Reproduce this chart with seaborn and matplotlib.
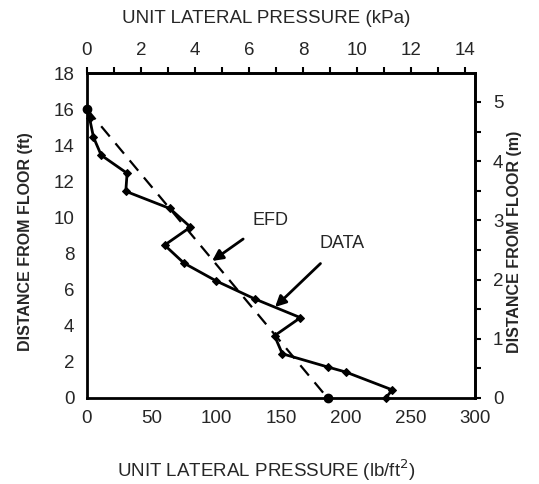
import matplotlib
matplotlib.use("Agg")
import matplotlib.pyplot as plt
import seaborn as sns
import pandas as pd
from matplotlib.ticker import MultipleLocator

sns.set_style("white")
plt.rcParams['font.family'] = ['Liberation Sans', 'DejaVu Sans']

# measured data (pressure lb/ft2, height ft)
data_pressure = [0, 2, 5, 11, 31, 30, 64, 80, 60, 75, 100, 130, 165, 145, 151, 186, 200, 236, 231]
data_height = [16.0, 15.5, 14.45, 13.45, 12.45, 11.45, 10.5, 9.47, 8.47, 7.47, 6.48, 5.48, 4.45, 3.45, 2.45, 1.72, 1.44, 0.45, 0.0]

# EFD prediction line
efd_pressure = [0, 186]
efd_height = [16.0, 0.0]

LB_PER_KPA = 20.885
FT_PER_M = 3.2808

df_data = pd.DataFrame({"p": data_pressure, "h": data_height})
df_efd = pd.DataFrame({"p": efd_pressure, "h": efd_height})

fig = plt.figure(figsize=(5.39, 4.84), dpi=100)
ax = fig.add_axes([0.1614, 0.1777, 0.8813 - 0.1614, 0.849 - 0.1777])

sns.lineplot(data=df_efd, x="p", y="h", ax=ax, sort=False, color="black",
             linewidth=1.6, dashes=False, linestyle=(0, (6, 4)))
ax.plot(efd_pressure, efd_height, "o", color="black", markersize=6, clip_on=False, zorder=5)
sns.lineplot(data=df_data, x="p", y="h", ax=ax, sort=False, color="black",
             linewidth=2, marker="D", markersize=4, markeredgecolor="black", clip_on=False)

ax.set_xlim(0, 300)
ax.set_ylim(0, 18)
ax.xaxis.set_major_locator(MultipleLocator(50))
ax.xaxis.set_minor_locator(MultipleLocator(25))
ax.yaxis.set_major_locator(MultipleLocator(2))
ax.yaxis.set_minor_locator(MultipleLocator(1))

for s in ax.spines.values():
    s.set_linewidth(2)
    s.set_color("black")

tick_kw = dict(direction="out", color="black", width=1.5)
ax.tick_params(which="major", length=4, labelsize=13.5, pad=5, **tick_kw)
ax.tick_params(which="minor", length=4, **tick_kw)

ax.set_xlabel("UNIT LATERAL PRESSURE (lb/ft$^2$)", fontsize=13.5)
ax.xaxis.set_label_coords(0.461, -0.184, transform=ax.transAxes)
ax.set_ylabel("DISTANCE FROM FLOOR (ft)", fontsize=11.5, fontweight="bold")
ax.yaxis.set_label_coords(-0.138, 0.48, transform=ax.transAxes)

top = ax.secondary_xaxis("top", functions=(lambda x: x / LB_PER_KPA, lambda k: k * LB_PER_KPA))
top.xaxis.set_major_locator(MultipleLocator(2))
top.xaxis.set_minor_locator(MultipleLocator(1))
top.tick_params(which="major", length=4, labelsize=13.5, pad=6, **tick_kw)
top.tick_params(which="minor", length=4, **tick_kw)
top.set_xlabel("UNIT LATERAL PRESSURE (kPa)", fontsize=13.5)
top.xaxis.set_label_coords(0.461, 1.155, transform=ax.transAxes)
top.spines["top"].set_linewidth(2)

right = ax.secondary_yaxis("right", functions=(lambda y: y / FT_PER_M, lambda m: m * FT_PER_M))
right.yaxis.set_major_locator(MultipleLocator(1))
right.yaxis.set_minor_locator(MultipleLocator(0.5))
right.tick_params(which="major", length=4, labelsize=13.5, pad=9, **tick_kw)
right.tick_params(which="minor", length=4, **tick_kw)
right.set_ylabel("DISTANCE FROM FLOOR (m)", fontsize=11.5, fontweight="bold")
right.yaxis.set_label_coords(1.082, 0.48, transform=ax.transAxes)
right.spines["right"].set_linewidth(2)

ax.annotate("EFD", xy=(96.7, 7.59), xytext=(141.5, 9.86), fontsize=13,
            ha="center", va="center",
            arrowprops=dict(arrowstyle="-|>", color="black", lw=2,
                            shrinkA=9, shrinkB=0, mutation_scale=16))
ax.annotate("DATA", xy=(145.4, 5.04), xytext=(197, 8.58), fontsize=13,
            ha="center", va="center",
            arrowprops=dict(arrowstyle="-|>", color="black", lw=2,
                            shrinkA=9, shrinkB=0, mutation_scale=16))

fig.savefig("out.png", dpi=100)
